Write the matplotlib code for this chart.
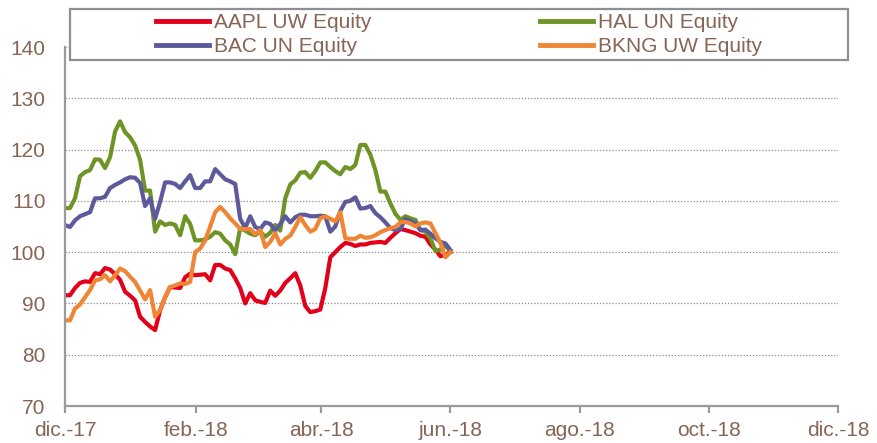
import matplotlib
matplotlib.use('Agg')
import matplotlib.pyplot as plt
import matplotlib.dates as mdates
from matplotlib.patches import Rectangle
import pandas as pd

plt.rcParams['font.family'] = ['Liberation Sans', 'DejaVu Sans']

# indexed prices, 1 dic 2017 -> 1 jun 2018 (=100)
start_date = '2017-12-01'
end_date = '2018-06-01'

aapl = [91.6, 91.6, 93, 94, 94.3, 94.2, 95.9, 95.7, 96.9, 96.6,
        95.7, 94.6, 92.3, 91.5, 90.6, 87.4, 86.4, 85.5, 84.8, 88.7,
        91.2, 93.2, 93.1, 93, 95.1, 95.8, 95.5, 95.6, 95.7, 94.5,
        97.5, 97.5, 96.8, 96.5, 94.9, 93, 90, 92, 90.6, 90.3,
        90.1, 92.5, 91.5, 92.5, 94, 94.9, 95.9, 93.5, 89.5, 88.3,
        88.5, 88.8, 93, 99, 100, 101, 101.8, 101.6, 101.2, 101.5,
        101.5, 101.8, 101.9, 102, 101.8, 102.8, 103.7, 104.5, 104.3, 104,
        103.7, 103.2, 103, 101.5, 100.5, 99.2, 99.5, 100]

hal = [108.6, 108.6, 110.5, 114.8, 115.6, 116, 118.1, 118, 116.4, 118.5,
       123.5, 125.5, 123.4, 122.4, 120.8, 118, 112, 112, 104, 106,
       105.3, 105.6, 105.3, 103.3, 107, 105.5, 102.3, 102.3, 102.5, 103,
       103.9, 103.6, 102.3, 101.5, 99.6, 104.7, 104.2, 103.6, 103.3, 104,
       103, 103.8, 105.3, 104.2, 110.5, 113.2, 114, 115.5, 115.6, 114.5,
       115.8, 117.5, 117.5, 116.6, 115.8, 115.2, 116.6, 116.2, 117, 120.9,
       120.9, 119, 116, 111.8, 111.8, 109.5, 107.5, 106.3, 107, 106.6,
       106.3, 104.3, 104, 102.7, 100.2, 100.5, 101.4, 100]

bac = [105.3, 104.9, 106.2, 107, 107.4, 107.8, 110.5, 110.5, 110.8, 112.5,
       113.1, 113.6, 114.2, 114.6, 114.5, 113.5, 109, 110.5, 106.5, 109.8,
       113.6, 113.6, 113.3, 112.5, 113.8, 115, 112.5, 112.5, 113.8, 113.8,
       116.2, 115.2, 114.2, 113.8, 113.3, 106.5, 104.7, 107, 104.9, 104.5,
       105.8, 105.5, 104.2, 105.5, 107, 105.8, 106.8, 107.3, 107.3, 107,
       107, 107.1, 107, 104, 105, 108, 109.8, 110, 110.7, 108.5,
       108.6, 109, 107.6, 106.8, 105.8, 104.7, 104.3, 104.5, 106.5, 106.1,
       105.5, 104.3, 104.4, 103.6, 102.7, 102, 101.7, 100.4]

bkng = [86.7, 86.7, 89, 89.8, 91.2, 92.6, 94.5, 94.7, 95.5, 94.3,
        95.5, 96.8, 96.3, 95.2, 94.2, 92.5, 90.8, 92.6, 87.4, 88.7,
        91.2, 93.2, 93.5, 93.9, 93.8, 94.2, 100, 100.7, 102.3, 105,
        107.8, 108.8, 107.8, 106.6, 105.6, 104.5, 104.5, 104.5, 103.5, 104.3,
        101, 102, 103.7, 101.5, 102.6, 103.2, 104.9, 106.8, 105.3, 104,
        104.5, 106.6, 107, 106.5, 106, 107.8, 102.7, 102.6, 102.6, 103.2,
        102.8, 102.9, 103.3, 103.9, 104.3, 104.7, 104.9, 105.8, 105.9, 105.6,
        105, 105.6, 105.8, 105.6, 103.7, 101.8, 99, 100]

tick_dates = ['2017-12-01', '2018-02-01', '2018-04-01', '2018-06-01',
              '2018-08-01', '2018-10-01', '2018-12-01']
tick_labels = ['dic.-17', 'feb.-18', 'abr.-18', 'jun.-18', 'ago.-18', 'oct.-18', 'dic.-18']

dates = pd.date_range(start_date, end_date, periods=len(aapl))

txt_col = '#876454'
ax_col = '#9a9aa2'

fig = plt.figure(figsize=(8.77, 4.43), dpi=100)
ax = fig.add_axes([65/877, 1-406/443, 773/877, 359/443])

lw = 3.0
l1, = ax.plot(dates, aapl, color='#e2001a', lw=lw, label='AAPL UW Equity')
l2, = ax.plot(dates, hal, color='#6e9426', lw=lw, label='HAL UN Equity')
l3, = ax.plot(dates, bac, color='#5c5a9a', lw=lw, label='BAC UN Equity')
l4, = ax.plot(dates, bkng, color='#ef8535', lw=lw, label='BKNG UW Equity')

ax.set_ylim(70, 140)
ax.set_yticks(range(70, 141, 10))
ax.set_xlim(pd.Timestamp(tick_dates[0]), pd.Timestamp(tick_dates[-1]))
ax.set_xticks(pd.to_datetime(tick_dates))
ax.set_xticklabels(tick_labels)

ax.grid(axis='y', linestyle=(0, (1, 1.5)), color='#8a8a8a', lw=0.9)
ax.set_axisbelow(True)
for s in ['top', 'right']:
    ax.spines[s].set_visible(False)
for s in ['left', 'bottom']:
    ax.spines[s].set_color(ax_col)
    ax.spines[s].set_linewidth(1.6)

ax.tick_params(axis='y', length=0, pad=14, labelsize=15, labelcolor=txt_col)
ax.tick_params(axis='x', length=5, width=1.6, color=ax_col, pad=6,
               labelsize=15, labelcolor=txt_col)

# legend box over the top of the plot
box = Rectangle((70/877, 1-60/443), 778/877, 51/443, transform=fig.transFigure,
                facecolor='white', edgecolor='#8e8e96', lw=1.6, zorder=5)
fig.patches.append(box)

leg = fig.legend(handles=[l1, l3, l2, l4], ncol=2, frameon=False,
                 loc='center', bbox_to_anchor=(459/877, 1-34.5/443),
                 fontsize=15, handlelength=2.55, handletextpad=0.25,
                 columnspacing=8.1, labelspacing=0.22, borderpad=0)
leg.set_zorder(6)
for t in leg.get_texts():
    t.set_color(txt_col)
for h in leg.legend_handles:
    h.set_linewidth(3.5)

fig.savefig('out.png', dpi=100)
